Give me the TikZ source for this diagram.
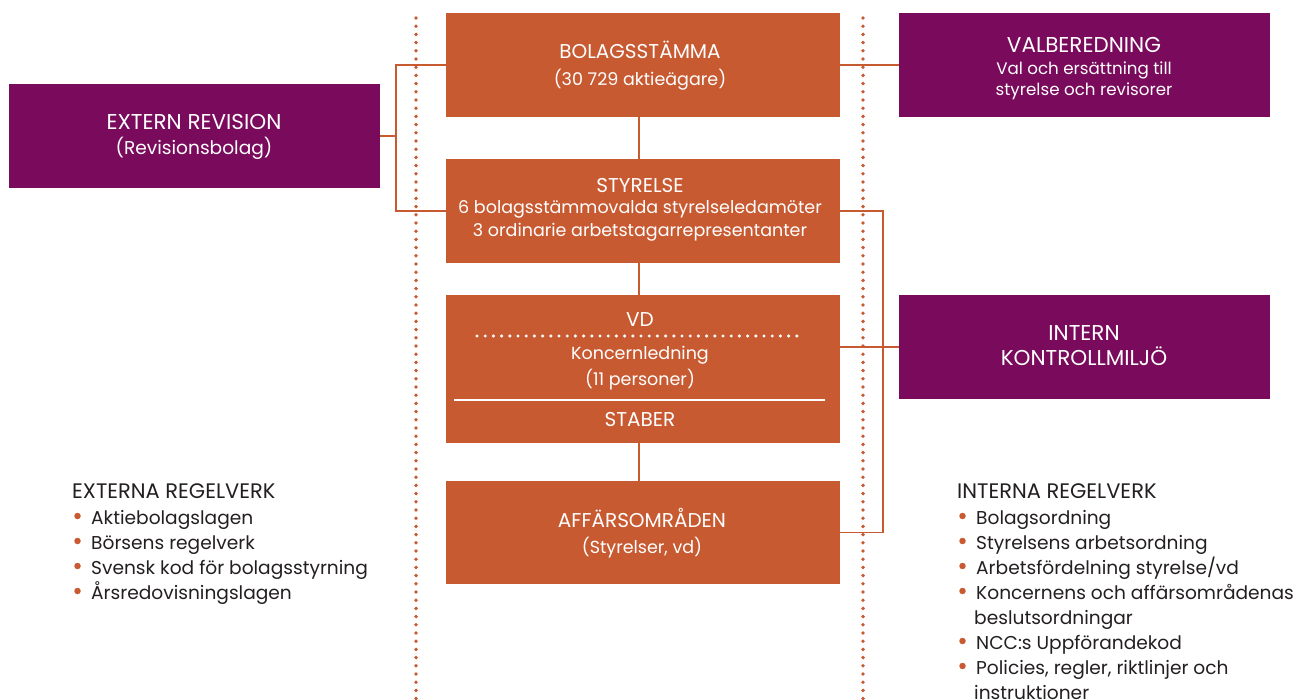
\documentclass[tikz,border=0pt]{standalone}
\usepackage{fontspec}
\setmainfont{Poppins}
\definecolor{ncco}{HTML}{C85A32}
\definecolor{nccp}{HTML}{7A0A5C}
\definecolor{ncct}{HTML}{231F20}
\begin{document}
\begin{tikzpicture}[x=1pt,y=-1pt,
  obox/.style={fill=ncco, draw=none, minimum width=394pt, inner sep=0pt, rectangle},
  pbox/.style={fill=nccp, draw=none, minimum width=371pt, minimum height=104pt, inner sep=0pt, rectangle},
  wc/.style={text=white, inner sep=0pt, anchor=base, font=\fontsize{20}{24}\selectfont},
  wt/.style={text=white, inner sep=0pt, anchor=base, font=\fontsize{17.5}{22}\selectfont},
  pc/.style={text=white, inner sep=0pt, anchor=base, font=\fontsize{21.5}{24}\selectfont},
  pt/.style={text=white, inner sep=0pt, anchor=base, font=\fontsize{18.6}{22}\selectfont},
  ws/.style={text=white, inner sep=0pt, anchor=base, font=\fontsize{16.7}{20}\selectfont},
  lh/.style={text=ncct, inner sep=0pt, anchor=base west, font=\fontsize{21}{24}\selectfont},
  lt/.style={text=ncct, inner sep=0pt, anchor=base west, font=\fontsize{18.6}{22}\selectfont},
  conn/.style={draw=ncco, line width=1.8pt},
  vdots/.style={draw=ncco, line width=3.8pt, line cap=round, dash pattern=on 0pt off 8.2pt},
  bul/.style={circle, fill=ncco, inner sep=0pt, minimum size=6.5pt},
]
\useasboundingbox (0,0) rectangle (1296,700);

% dotted guide lines
\draw[vdots] (416,18) -- (416,700);
\draw[vdots] (863,18) -- (863,700);

% orange boxes
\node[obox, minimum height=104pt] (bs) at (643,65) {};
\node[obox, minimum height=104pt] (st) at (643,211) {};
\node[obox, minimum height=148pt] (vd) at (643,369) {};
\node[obox, minimum height=103pt] (af) at (643,532.5) {};

% purple boxes
\node[pbox] (er) at (194.5,136) {};
\node[pbox] (vb) at (1084.5,65) {};
\node[pbox] (ik) at (1084.5,347) {};

% connectors
\coordinate (L) at (396,0);
\coordinate (R) at (883,0);
\draw[conn] (er.east) -- (er.east -| L);
\draw[conn] (bs.west) -- (bs.west -| L) -- (st.west -| L) -- (st.west);
\draw[conn] (bs.east) -- (vb.west);
\draw[conn] (st.east) -- (st.east -| R) -- (af.east -| R) -- (af.east);
\draw[conn] (vd.east |- ik.west) -- (ik.west);
\draw[conn] ([xshift=-4pt]bs.south) -- ([xshift=-4pt]st.north);
\draw[conn] ([xshift=-4pt]st.south) -- ([xshift=-4pt]vd.north);
\draw[conn] ([xshift=-4pt]vd.south) -- ([xshift=-4pt]af.north);

% lines inside VD box
\draw[white, line width=3.4pt, line cap=round, dash pattern=on 0pt off 8.2pt] (477,336) -- (804,336);
\draw[white, line width=1.6pt] (454,400) -- (825,400);

% texts in orange boxes
\node[wc] (bs1) at (640,59) {BOLAGSSTÄMMA};
\node[wt] (bs2) at (640,86) {(30 729 aktieägare)};
\node[wc] (st1) at (640,193) {STYRELSE};
\node[wt] (st2) at (640,214) {6 bolagsstämmovalda styrelseledamöter};
\node[wt] (st3) at (640,237) {3 ordinarie arbetstagarrepresentanter};
\node[wc] (vd1) at (640,327) {VD};
\node[wt] (vd2) at (640,360) {Koncernledning};
\node[wt] (vd3) at (640,386) {(11 personer)};
\node[wc] (vd4) at (640,427) {STABER};
\node[wc] (af1) at (642,527) {AFFÄRSOMRÅDEN};
\node[wt] (af2) at (642,553) {(Styrelser, vd)};

% texts in purple boxes
\node[pc] (er1) at (194,130) {EXTERN REVISION};
\node[pt] (er2) at (194,155) {(Revisionsbolag)};
\node[pc] (vb1) at (1084,53) {VALBEREDNING};
\node[ws] (vb2) at (1084,75) {Val och ersättning till};
\node[ws] (vb3) at (1084,96) {styrelse och revisorer};
\node[pc] (ik1) at (1084,341) {INTERN};
\node[pc] (ik2) at (1084,366) {KONTROLLMILJÖ};

% external rules
\node[lh] (eh) at (72,498) {EXTERNA REGELVERK};
\foreach \t [count=\i from 0] in {Aktiebolagslagen, Börsens regelverk, Svensk kod för bolagsstyrning, Årsredovisningslagen}{
  \node[bul] (eb\i) at (77.5,{524+25*\i-8}) {};
  \node[lt] (et\i) at (91,{524+25*\i}) {\t};
}

% internal rules
\node[lh] (ih) at (957,498) {INTERNA REGELVERK};
\foreach \t/\k [count=\i from 0] in {Bolagsordning/0, Styrelsens arbetsordning/1, Arbetsfördelning styrelse\slash vd/2, Koncernens och affärsområdenas/3, NCC:s Uppförandekod/5, {Policies, regler, riktlinjer och}/6}{
  \node[bul] (ib\i) at (962.5,{524+25*\k-8}) {};
  \node[lt] (it\i) at (976,{524+25*\k}) {\t};
}
\node[lt] (ic1) at (974,624) {beslutsordningar};
\node[lt] (ic2) at (974,699) {instruktioner};
\end{tikzpicture}
\end{document}
